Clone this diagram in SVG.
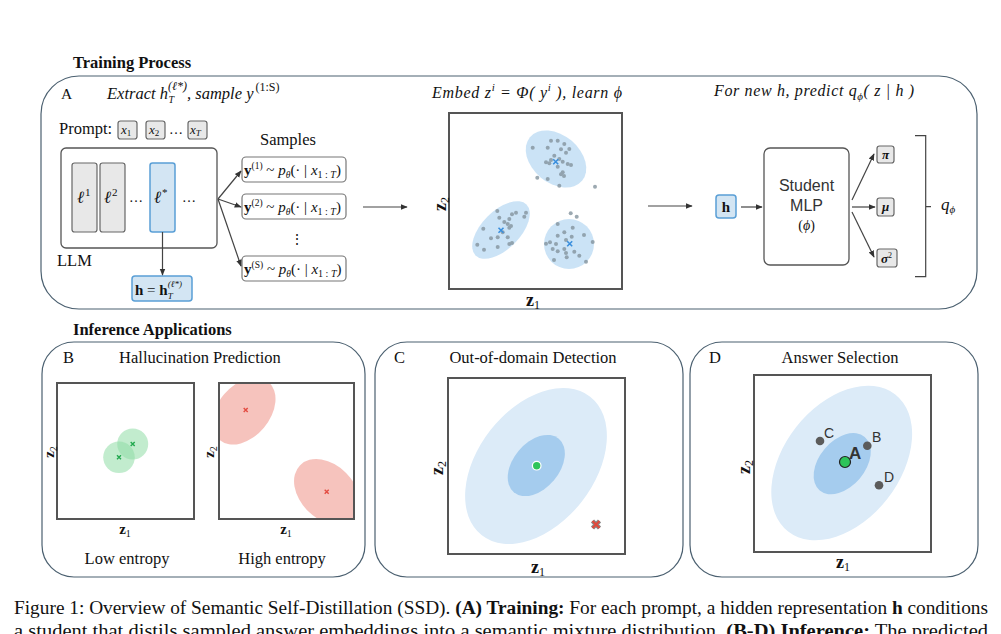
<svg xmlns="http://www.w3.org/2000/svg" width="1001" height="634" viewBox="0 0 1001 634">
<style>
.ser{font-family:"Liberation Serif","Times New Roman",serif;fill:#111}
.it{font-family:"Liberation Serif","Times New Roman",serif;font-style:italic;fill:#111}
.sans{font-family:"Liberation Sans",Arial,sans-serif;fill:#333}
.bold{font-weight:bold}
.pan{fill:none;stroke:#4b6070;stroke-width:1.2}
.plot{fill:none;stroke:#555;stroke-width:2}
.gbox{fill:#e8e8e8;stroke:#666;stroke-width:1.2}
.bbox{fill:#d3e5f3;stroke:#5a9fd6;stroke-width:1.5}
.wbox{fill:#fff;stroke:#777;stroke-width:1.2}
.conn{stroke:#444;stroke-width:1.2;fill:none;marker-end:url(#ah)}
.dot{fill:#84949e;opacity:0.8}
.clu{fill:#a9d0f0;opacity:0.6}
.outer{fill:#dcebf8}
.inner{fill:#a5ccee}
.gdot{fill:#5b5b5b}
</style>
<defs>
<marker id="ah" viewBox="0 0 10 10" refX="9" refY="5" markerWidth="7" markerHeight="7" orient="auto" markerUnits="userSpaceOnUse">
<path d="M0,1 L10,5 L0,9 z" fill="#333"/>
</marker>
<path id="bx" d="M-2.5,-2.5 L2.5,2.5 M-2.5,2.5 L2.5,-2.5" stroke="#3a8fdd" stroke-width="1.6" fill="none"/>
<path id="gx" d="M-2,-2 L2,2 M-2,2 L2,-2" stroke="#22a94f" stroke-width="1.4" fill="none"/>
<path id="rx" d="M-2,-2 L2,2 M-2,2 L2,-2" stroke="#e34a40" stroke-width="1.4" fill="none"/>
<clipPath id="clipB2"><rect x="219" y="383" width="135" height="136"/></clipPath>
</defs>

<!-- Section titles -->
<text class="ser bold" x="73" y="68" font-size="16.5">Training Process</text>
<text class="ser bold" x="73" y="335" font-size="16.5">Inference Applications</text>

<!-- Panel A -->
<g id="panelA">
<rect class="pan" x="41" y="76" width="936" height="233" rx="38"/>
<text class="ser" x="61" y="99" font-size="15.5">A</text>
<text class="it" x="107" y="99" font-size="16.5">Extract h<tspan font-size="10" dx="0.5" dy="4">T</tspan><tspan font-size="12" dx="-6" dy="-13">(ℓ*)</tspan><tspan dy="9">, sample y</tspan><tspan font-size="12" font-style="normal" dx="2" dy="-8">(1:S)</tspan></text>
</g>

<g id="prompt">
<text class="ser" x="59" y="134" font-size="16.5">Prompt:</text>
<rect class="gbox" x="118" y="121" width="19" height="18" rx="2.5"/>
<text class="it" x="121" y="134" font-size="13" fill="#555">x<tspan font-size="9" font-style="normal" dy="2">1</tspan></text>
<rect class="gbox" x="146" y="121" width="19" height="18" rx="2.5"/>
<text class="it" x="149" y="134" font-size="13">x<tspan font-size="9" font-style="normal" dy="2">2</tspan></text>
<text class="ser" x="169" y="134" font-size="14">…</text>
<rect class="gbox" x="188" y="121" width="19" height="18" rx="2.5"/>
<text class="it" x="190" y="134" font-size="13">x<tspan font-size="9" dy="2">T</tspan></text>
</g>

<g id="llm">
<rect x="61" y="148" width="156" height="100" rx="5" fill="#fff" stroke="#555" stroke-width="1.3"/>
<rect class="gbox" x="72" y="163" width="25" height="69" rx="2.5"/>
<text class="it" x="77" y="203" font-size="17" fill="#555">ℓ<tspan font-size="11" font-style="normal" dx="1" dy="-7">1</tspan></text>
<rect class="gbox" x="100" y="163" width="25" height="69" rx="2.5"/>
<text class="it" x="104" y="203" font-size="17" fill="#555">ℓ<tspan font-size="11" font-style="normal" dx="1" dy="-7">2</tspan></text>
<text class="ser" x="129" y="202" font-size="14">…</text>
<rect class="bbox" x="150" y="163" width="25" height="69" rx="2.5"/>
<text class="it" x="154" y="203" font-size="17" fill="#555">ℓ<tspan font-size="11" font-style="normal" dx="1" dy="-7">*</tspan></text>
<text class="ser" x="182" y="202" font-size="14">…</text>
<text class="ser" x="57" y="266" font-size="16.5">LLM</text>
</g>

<g id="hbox">
<rect class="bbox" x="132" y="276" width="60" height="25" rx="3"/>
<text class="ser bold" x="135" y="295" font-size="15">h<tspan font-weight="normal"> = </tspan>h<tspan font-weight="normal" font-style="italic" font-size="9" dy="4">T</tspan><tspan font-weight="normal" font-style="italic" font-size="9" dx="-5" dy="-12">(ℓ*)</tspan></text>
</g>

<g id="samples">
<text class="ser" x="260" y="145" font-size="16.5">Samples</text>
<rect class="wbox" x="242" y="157" width="104" height="25" rx="4"/>
<text class="ser" x="244" y="175" font-size="15"><tspan font-weight="bold">y</tspan><tspan font-size="9.5" dy="-6">(1)</tspan><tspan dy="6"> ~ </tspan><tspan font-style="italic">p</tspan><tspan font-size="9.5" font-style="italic" dy="3">θ</tspan><tspan dy="-3">(· | </tspan><tspan font-style="italic">x</tspan><tspan font-size="10" dy="3">1 : <tspan font-style="italic">T</tspan></tspan><tspan dy="-3">)</tspan></text>
<rect class="wbox" x="242" y="194" width="104" height="25" rx="4"/>
<text class="ser" x="244" y="212" font-size="15"><tspan font-weight="bold">y</tspan><tspan font-size="9.5" dy="-6">(2)</tspan><tspan dy="6"> ~ </tspan><tspan font-style="italic">p</tspan><tspan font-size="9.5" font-style="italic" dy="3">θ</tspan><tspan dy="-3">(· | </tspan><tspan font-style="italic">x</tspan><tspan font-size="10" dy="3">1 : <tspan font-style="italic">T</tspan></tspan><tspan dy="-3">)</tspan></text>
<text class="ser" x="290" y="244" font-size="14">⋮</text>
<rect class="wbox" x="242" y="256" width="104" height="25" rx="4"/>
<text class="ser" x="244" y="274" font-size="15"><tspan font-weight="bold">y</tspan><tspan font-size="9.5" dy="-6">(S)</tspan><tspan dy="6"> ~ </tspan><tspan font-style="italic">p</tspan><tspan font-size="9.5" font-style="italic" dy="3">θ</tspan><tspan dy="-3">(· | </tspan><tspan font-style="italic">x</tspan><tspan font-size="10" dy="3">1 : <tspan font-style="italic">T</tspan></tspan><tspan dy="-3">)</tspan></text>
</g>

<g id="embed">
<text class="it" x="432" y="98" font-size="16" textLength="190" lengthAdjust="spacing">Embed z<tspan font-size="11" dy="-7">i</tspan><tspan dy="7"> = Φ( y</tspan><tspan font-size="11" dy="-7">i</tspan><tspan dy="7"> ), learn ϕ</tspan></text>
<rect class="plot" x="449" y="113" width="173" height="176"/>
<text class="ser bold" x="533" y="306" font-size="18" text-anchor="middle">z<tspan font-weight="normal" font-size="12" dy="3">1</tspan></text>
<text class="ser bold" transform="translate(446,204) rotate(-90)" font-size="18" text-anchor="middle">z<tspan font-weight="normal" font-size="12" dy="3">2</tspan></text>
<ellipse class="clu" cx="556" cy="159" rx="34" ry="24" transform="rotate(40 556 159)"/>
<ellipse class="clu" cx="501" cy="230" rx="36" ry="19" transform="rotate(-45 501 230)"/>
<ellipse class="clu" cx="569" cy="244" rx="25" ry="25"/>
<g class="dot">
<circle cx="532.7" cy="147.7" r="2"/><circle cx="551" cy="140.7" r="2"/><circle cx="557.7" cy="140.7" r="2"/><circle cx="564.3" cy="144" r="2"/><circle cx="547.7" cy="147.7" r="2"/><circle cx="561" cy="149.3" r="2"/><circle cx="569.3" cy="149" r="2"/><circle cx="566" cy="152.7" r="2"/><circle cx="554.3" cy="155.7" r="2"/><circle cx="546" cy="162.3" r="2"/><circle cx="551" cy="160" r="2"/><circle cx="559.3" cy="159" r="2"/><circle cx="562.7" cy="161.7" r="2"/><circle cx="567.7" cy="164" r="2"/><circle cx="571" cy="165" r="2"/><circle cx="557.7" cy="166.7" r="2"/><circle cx="562.7" cy="172.3" r="2"/><circle cx="561" cy="174.3" r="2"/><circle cx="564" cy="176" r="2"/><circle cx="537.3" cy="177.7" r="2"/><circle cx="547.7" cy="179" r="2"/><circle cx="559.3" cy="185.7" r="2"/><circle cx="595" cy="186.7" r="2"/><circle cx="549.3" cy="163.3" r="2"/>
<circle cx="497.3" cy="211" r="2"/><circle cx="516" cy="212.7" r="2"/><circle cx="526" cy="212.7" r="2"/><circle cx="512" cy="214.3" r="2"/><circle cx="499.3" cy="217.7" r="2"/><circle cx="509.3" cy="219" r="2"/><circle cx="524.3" cy="216.7" r="2"/><circle cx="504.3" cy="222" r="2"/><circle cx="507.7" cy="224" r="2"/><circle cx="511" cy="226" r="2"/><circle cx="509.3" cy="227.7" r="2"/><circle cx="483.3" cy="228.7" r="2"/><circle cx="502.7" cy="232.3" r="2"/><circle cx="507.7" cy="237.3" r="2"/><circle cx="491" cy="238.3" r="2"/><circle cx="497.7" cy="237.3" r="2"/><circle cx="509.3" cy="244" r="2"/><circle cx="512" cy="243" r="2"/><circle cx="477.3" cy="244.7" r="2"/><circle cx="497.7" cy="247" r="2"/><circle cx="484" cy="249.7" r="2"/>
<circle cx="570.7" cy="213.3" r="2"/><circle cx="576.7" cy="216.7" r="2"/><circle cx="557.7" cy="224" r="2"/><circle cx="572.7" cy="227.7" r="2"/><circle cx="564.3" cy="232.3" r="2"/><circle cx="557.7" cy="235.7" r="2"/><circle cx="571.7" cy="236.7" r="2"/><circle cx="584" cy="235" r="2"/><circle cx="546" cy="243.7" r="2"/><circle cx="550" cy="242.3" r="2"/><circle cx="556" cy="244" r="2"/><circle cx="566" cy="240" r="2"/><circle cx="592.7" cy="242" r="2"/><circle cx="552.7" cy="249" r="2"/><circle cx="557.7" cy="251.3" r="2"/><circle cx="566" cy="253" r="2"/><circle cx="574.3" cy="251.7" r="2"/><circle cx="579.3" cy="255.7" r="2"/><circle cx="566.7" cy="257.3" r="2"/><circle cx="554" cy="260" r="2"/><circle cx="586" cy="261.7" r="2"/><circle cx="564.3" cy="249" r="2"/>
</g>
<use href="#bx" x="555.7" y="161.7"/>
<use href="#bx" x="501" y="230.3"/>
<use href="#bx" x="569.7" y="243.7"/>
</g>

<g id="predict">
<text class="it" x="714" y="96" font-size="16" textLength="200" lengthAdjust="spacing">For new h, predict q<tspan font-size="11" dy="4">ϕ</tspan><tspan dy="-4">( z | h )</tspan></text>
</g>

<g id="hin">
<rect class="bbox" x="716" y="195" width="20" height="23" rx="3"/>
<text class="ser bold" x="726" y="212" font-size="15" text-anchor="middle">h</text>
</g>

<g id="mlp">
<rect x="764" y="148" width="85" height="117" rx="6" fill="#fff" stroke="#555" stroke-width="1.3"/>
<text class="sans" x="806.5" y="191" font-size="16" text-anchor="middle">Student</text>
<text class="sans" x="806.5" y="211" font-size="16" text-anchor="middle">MLP</text>
<text class="ser" x="806.5" y="230" font-size="14" text-anchor="middle">(<tspan font-style="italic">ϕ</tspan>)</text>
</g>

<g id="outputs">
<rect class="gbox" x="877" y="146" width="17" height="17" rx="2.5"/>
<text class="ser bold" x="885.5" y="159" font-size="13" font-style="italic" text-anchor="middle">π</text>
<rect class="gbox" x="877" y="198" width="17" height="18" rx="2.5"/>
<text class="ser bold" x="885.5" y="211" font-size="13" font-style="italic" text-anchor="middle">μ</text>
<rect class="gbox" x="877" y="249" width="20" height="18" rx="2.5"/>
<text class="ser bold" x="881" y="263" font-size="13" font-style="italic">σ<tspan font-size="8" font-style="normal" font-weight="normal" dy="-5">2</tspan></text>
<path d="M915,135.7 H925.7 V276.7 H915 M925.7,206.7 H931" fill="none" stroke="#444" stroke-width="1.2"/>
<text class="it" x="941" y="210" font-size="17">q<tspan font-size="11" dy="3">ϕ</tspan></text>
</g>

<g id="connectors">
<line class="conn" x1="162.5" y1="232" x2="162.5" y2="275"/>
<line class="conn" x1="218" y1="199" x2="241" y2="171"/>
<line class="conn" x1="218" y1="199" x2="241" y2="207"/>
<line class="conn" x1="218" y1="199" x2="241" y2="266"/>
<line class="conn" x1="363" y1="207" x2="407" y2="207"/>
<line class="conn" x1="648" y1="206" x2="692" y2="206"/>
<line class="conn" x1="741" y1="207" x2="762" y2="207"/>
<line class="conn" x1="852" y1="200" x2="874" y2="154"/>
<line class="conn" x1="852" y1="207" x2="875" y2="207"/>
<line class="conn" x1="852" y1="212" x2="874" y2="257"/>
</g>

<!-- Panel B -->
<g id="panelB">
<rect class="pan" x="42" y="342" width="323" height="235" rx="32"/>
<text class="ser" x="63" y="363" font-size="16.5">B</text>
<text class="ser" x="200" y="363" font-size="16.5" text-anchor="middle">Hallucination Prediction</text>
<rect class="plot" x="57" y="383" width="137" height="136"/>
<circle cx="132.7" cy="444" r="15.5" fill="#8fdca6" opacity="0.55"/>
<circle cx="119" cy="457.3" r="15.8" fill="#8fdca6" opacity="0.55"/>
<use href="#gx" x="132.7" y="444"/>
<use href="#gx" x="119" y="457.3"/>
<text class="ser bold" x="125" y="534" font-size="15" text-anchor="middle">z<tspan font-weight="normal" font-size="10" dy="3">1</tspan></text>
<text class="ser bold" transform="translate(54,452) rotate(-90)" font-size="15" text-anchor="middle">z<tspan font-weight="normal" font-size="10" dy="3">2</tspan></text>
<g clip-path="url(#clipB2)">
<ellipse cx="244" cy="411" rx="38" ry="26" transform="rotate(-50 244 411)" fill="#f2a9a1" opacity="0.7"/>
<ellipse cx="327" cy="492" rx="38" ry="27" transform="rotate(45 327 492)" fill="#f2a9a1" opacity="0.7"/>
</g>
<rect class="plot" x="219" y="383" width="135" height="136"/>
<use href="#rx" x="245.7" y="410"/>
<use href="#rx" x="326.7" y="491.7"/>
<text class="ser bold" x="286" y="534" font-size="15" text-anchor="middle">z<tspan font-weight="normal" font-size="10" dy="3">1</tspan></text>
<text class="ser bold" transform="translate(214,452) rotate(-90)" font-size="15" text-anchor="middle">z<tspan font-weight="normal" font-size="10" dy="3">2</tspan></text>
<text class="ser" x="127" y="564" font-size="16.5" text-anchor="middle">Low entropy</text>
<text class="ser" x="282" y="564" font-size="16.5" text-anchor="middle">High entropy</text>
</g>

<!-- Panel C -->
<g id="panelC">
<rect class="pan" x="375" y="342" width="308" height="235" rx="32"/>
<text class="ser" x="394" y="363" font-size="16.5">C</text>
<text class="ser" x="533" y="363" font-size="16.5" text-anchor="middle">Out-of-domain Detection</text>
<rect class="plot" x="448" y="378" width="177" height="176"/>
<ellipse class="outer" cx="536" cy="466" rx="88" ry="58" transform="rotate(-52 536 466)"/>
<ellipse class="inner" cx="536.3" cy="465.5" rx="35" ry="23" transform="rotate(-50 536.3 465.5)"/>
<circle cx="536.7" cy="465.7" r="4.3" fill="#2ec45a" stroke="#fff" stroke-width="1.2"/>
<path d="M592.5,521 L599.5,528 M592.5,528 L599.5,521" stroke="#888" stroke-width="4.5" fill="none"/>
<path d="M592.5,521 L599.5,528 M592.5,528 L599.5,521" stroke="#e04a3c" stroke-width="2.2" fill="none"/>
<text class="ser bold" x="538" y="573" font-size="18" text-anchor="middle">z<tspan font-weight="normal" font-size="12" dy="3">1</tspan></text>
<text class="ser bold" transform="translate(443,468) rotate(-90)" font-size="18" text-anchor="middle">z<tspan font-weight="normal" font-size="12" dy="3">2</tspan></text>
</g>

<!-- Panel D -->
<g id="panelD">
<rect class="pan" x="690" y="342" width="288" height="235" rx="32"/>
<text class="ser" x="709" y="363" font-size="16.5">D</text>
<text class="ser" x="840" y="363" font-size="16.5" text-anchor="middle">Answer Selection</text>
<rect class="plot" x="754" y="375" width="177" height="177"/>
<ellipse class="outer" cx="841.7" cy="463" rx="87" ry="58" transform="rotate(-52 841.7 463)"/>
<ellipse class="inner" cx="842.2" cy="463.7" rx="35" ry="23" transform="rotate(-50 842.2 463.7)"/>
<circle class="gdot" cx="820" cy="441" r="4.3"/>
<text class="sans" x="824" y="438" font-size="14" fill="#222">C</text>
<circle class="gdot" cx="867.3" cy="445.7" r="4.3"/>
<text class="sans" x="872" y="442" font-size="14" fill="#222">B</text>
<circle class="gdot" cx="879" cy="485.3" r="4.3"/>
<text class="sans" x="884" y="482" font-size="14" fill="#222">D</text>
<circle cx="845" cy="462" r="5.5" fill="#2ec45a" stroke="#222" stroke-width="1.2"/>
<text class="sans bold" x="849" y="459" font-size="17" fill="#222">A</text>
<text class="ser bold" x="843" y="568" font-size="18" text-anchor="middle">z<tspan font-weight="normal" font-size="12" dy="3">1</tspan></text>
<text class="ser bold" transform="translate(750,467) rotate(-90)" font-size="18" text-anchor="middle">z<tspan font-weight="normal" font-size="12" dy="3">2</tspan></text>
</g>

<!-- Caption -->
<text class="ser" x="14" y="614" font-size="18" textLength="974" lengthAdjust="spacingAndGlyphs">Figure 1: Overview of Semantic Self-Distillation (SSD). <tspan font-weight="bold">(A) Training:</tspan> For each prompt, a hidden representation <tspan font-weight="bold">h</tspan> conditions</text>
<text class="ser" x="14" y="637" font-size="18" textLength="974" lengthAdjust="spacingAndGlyphs">a student that distils sampled answer embeddings into a semantic mixture distribution. <tspan font-weight="bold">(B-D) Inference:</tspan> The predicted</text>
</svg>
